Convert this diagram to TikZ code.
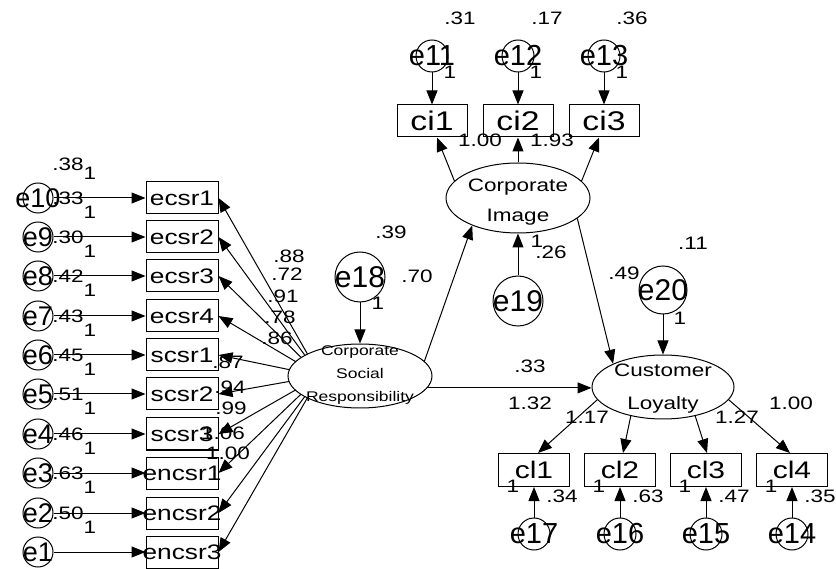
\documentclass[tikz,border=0pt]{standalone}
\usepackage{fontspec}
\setmainfont{Liberation Sans}
\newfontfamily\wf{Liberation Sans}[FakeStretch=1.25]
\usetikzlibrary{arrows.meta,shapes.geometric,calc}
\pgfdeclarelayer{bg}
\pgfsetlayers{bg,main}
\tikzset{
  arr/.style={line width=1pt,-{Triangle[length=14pt,width=11pt]}},
  obs/.style={draw,line width=1pt,rectangle,minimum width=72pt,minimum height=32pt,inner sep=0pt},
  errc/.style={draw,line width=1pt,circle,inner sep=0pt,minimum size=#1},
  errc/.default=30pt,
  lat/.style={draw,line width=1pt,ellipse,inner sep=0pt,fill=white},
  etxt/.style={inner sep=0pt,font=\fontsize{#1}{#1}\selectfont},
  etxt/.default=27pt,
  btxt/.style={inner sep=0pt,font=\wf\fontsize{#1}{#1}\selectfont},
  btxt/.default=21pt,
  num/.style={inner sep=0pt,font=\wf\fontsize{18}{18}\selectfont},
}
\begin{document}
\begin{tikzpicture}[x=1pt,y=-1pt]
\useasboundingbox (0,0) rectangle (836,569);
% ---------- CSR latent ----------
\node[lat,minimum width=144pt,minimum height=64pt] (csr) at (360,376) {};
\node[align=center,inner sep=0pt,font=\wf\fontsize{14}{23}\selectfont] (csrt) at (360,375) {Corporate\\Social\\Responsibility};
\coordinate (csrf) at (320,376);
% ---------- left indicators ----------
\foreach \i/\y/\b in {10/198/ecsr1, 9/237/ecsr2, 8/276/ecsr3, 7/316/ecsr4, 6/355/scsr1, 5/394/scsr2, 4/434/scsr3, 3/473/encsr1, 2/513/encsr2, 1/552/encsr3}{
  \node[obs] (\b) at (182,\y) {};
  \node[btxt] (\b-t) at (\b) {\b};
  \node[errc] (e\i) at (38,\y) {};
  \node[etxt] (e\i-t) at (e\i) {e\i};
  \draw[arr] (e\i) -- (\b);
  \begin{pgfonlayer}{bg}
    \draw[arr] (csrf) -- (\b.east);
  \end{pgfonlayer}
}
\foreach \v/\y in {.38/164, .33/198, .30/237, .42/276, .43/316, .45/355, .51/394, .46/434, .63/473, .50/513}
  \node[num] (v\y) at (68,\y) {\v};
\foreach \y in {173,212,251,290,330,369,408,448,487,527}
  \node[num] (o\y) at (90,\y) {1};
\foreach \v/\x/\y [count=\k] in {.88/289/256, .72/287/274, .91/283/296, .78/280/317, .86/277/338, .87/228/362, .94/230/387, .99/231/408, 1.06/223/433, 1.00/228/453}
  \node[num] (L\k) at (\x,\y) {\v};
% ---------- e18 ----------
\node[errc=50pt] (e18) at (360,277) {};
\node[etxt=30pt] (e18-t) at (e18) {e18};
\draw[arr] (e18) -- (csr);
\node[num] (n39) at (391,232) {.39};
\node[num] (n70) at (417,276) {.70};
\node[num] (n18) at (378,303) {1};
% ---------- Corporate Image ----------
\node[lat,minimum width=144pt,minimum height=70pt] (ci) at (518,198) {};
\node[align=center,inner sep=0pt,font=\wf\fontsize{18}{30}\selectfont] (cit) at (518,202) {Corporate\\Image};
\draw[arr] (csr.13) -- (ci.211);
\foreach \k/\x/\v in {1/432/.31, 2/518/.17, 3/604/.36}{
  \node[obs,minimum width=70pt] (ci\k) at (\x,121) {};
  \node[btxt=27pt] (ci\k-t) at (ci\k) {ci\k};
}
\foreach \k/\x in {11/432, 12/518, 13/604}{
  \node[errc=32pt] (e\k) at (\x,56) {};
  \node[etxt=29pt] (e\k-t) at (e\k) {e\k};
}
\draw[arr] (e11) -- (ci1);
\draw[arr] (e12) -- (ci2);
\draw[arr] (e13) -- (ci3);
\node[num] (n31) at (460,18) {.31};
\node[num] (n17) at (547,18) {.17};
\node[num] (n36) at (632,18) {.36};
\node[num] (o11) at (450,72) {1};
\node[num] (o12) at (536,72) {1};
\node[num] (o13) at (622,72) {1};
\draw[arr] (ci.165) -- ([xshift=5pt]ci1.south);
\draw[arr] (ci.north) -- (ci2.south);
\draw[arr] (ci.15) -- ([xshift=-5pt]ci3.south);
\node[num] (n100a) at (480,140) {1.00};
\node[num] (n193) at (552,140) {1.93};
% ---------- e19 ----------
\node[errc=50pt] (e19) at (518,301) {};
\node[etxt=30pt] (e19-t) at (e19) {e19};
\draw[arr] (e19) -- (ci);
\node[num] (o19) at (537,241) {1};
\node[num] (n26) at (551,252) {.26};
% ---------- Customer Loyalty ----------
\node[lat,minimum width=142pt,minimum height=64pt] (cl) at (663,387) {};
\node[align=center,inner sep=0pt,font=\wf\fontsize{18}{33}\selectfont] (clt) at (663,389) {Customer\\Loyalty};
\draw[arr] (ci.-19) -- (cl.155);
\draw[arr] (csr.-10) -- (csr.-10 -| cl.west);
\node[num] (n33) at (530,366) {.33};
\node[num] (n132) at (530,403) {1.32};
% ---------- e20 ----------
\node[errc=48pt] (e20) at (663,290) {};
\node[etxt=30pt] (e20-t) at (e20) {e20};
\draw[arr] (e20) -- (cl);
\node[num] (n11) at (693,243) {.11};
\node[num] (n49) at (624,273) {.49};
\node[num] (o20) at (680,318) {1};
% ---------- cl boxes ----------
\foreach \k/\x/\e/\v in {1/534/17/.34, 2/620/16/.63, 3/706/15/.47, 4/792/14/.35}{
  \node[obs,minimum width=71pt,minimum height=33pt] (cl\k) at (\x,470) {};
  \node[btxt=24pt] (cl\k-t) at (cl\k) {cl\k};
  \node[errc=32pt] (e\e) at (\x,534) {};
  \node[etxt=29pt] (e\e-t) at (e\e) {e\e};
  \draw[arr] (e\e) -- (cl\k);
  \node[num] (o\e) at ($(\x,486)+(-21,0)$) {1};
  \node[num] (v\e) at ($(\x,496)+(28,0)$) {\v};
}
\draw[arr] (cl.191) -- ([xshift=4pt]cl1.north);
\draw[arr] (cl.222) -- ([xshift=3pt]cl2.north);
\draw[arr] (cl.-42) -- ([xshift=1pt]cl3.north);
\draw[arr] (cl.-11) -- ([xshift=-2pt]cl4.north);
\node[num] (n117) at (587,417) {1.17};
\node[num] (n127) at (737,417) {1.27};
\node[num] (n100b) at (791,403) {1.00};
\end{tikzpicture}
\end{document}
